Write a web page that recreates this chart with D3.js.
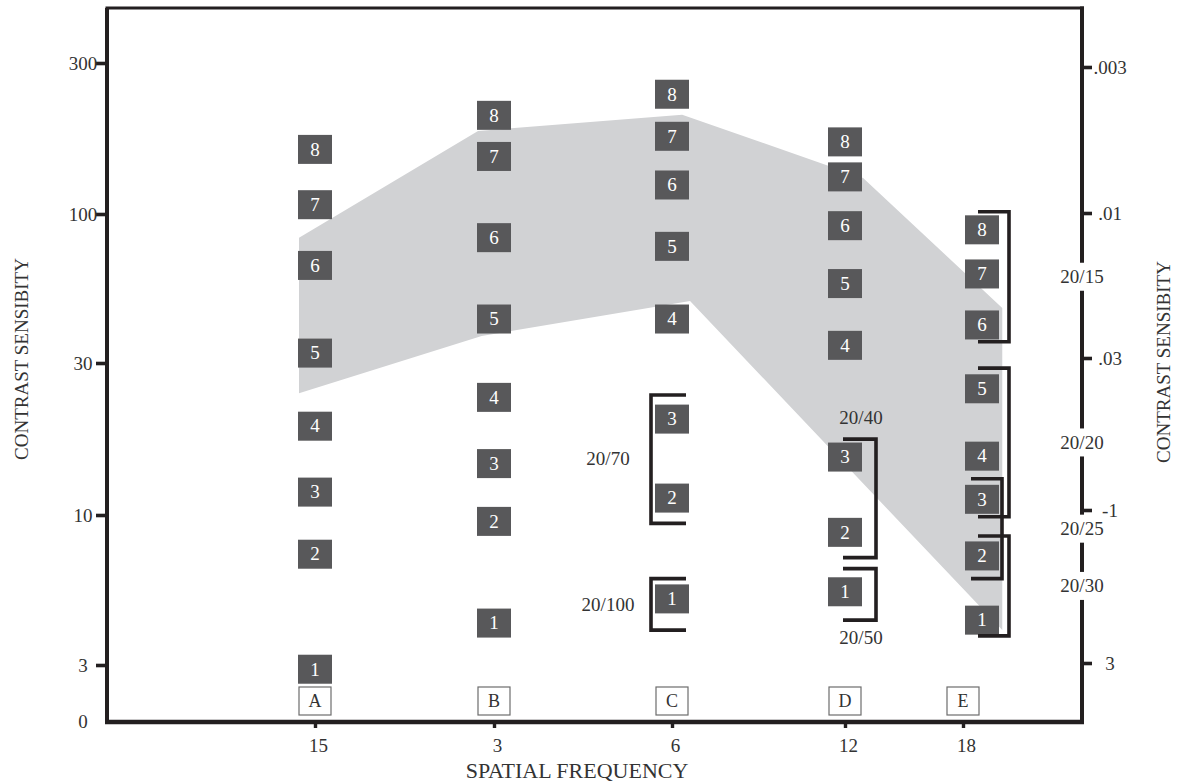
<!DOCTYPE html>
<html>
<head>
<meta charset="utf-8">
<script src="https://cdn.jsdelivr.net/npm/d3@7"></script>
<style>
  html, body { margin: 0; padding: 0; background: #fff; }
  svg { display: block; font-family: "Liberation Serif", "DejaVu Serif", serif; }
</style>
</head>
<body>
<svg id="chart" width="1180" height="784"></svg>
<script>
// ---- data -------------------------------------------------------------
const categories = ["A", "B", "C", "D", "E"];
const frequencies = [1.5, 3, 6, 12, 18];           // cycles per degree
const frequencyLabels = ["15", "3", "6", "12", "18"];
const levels = [1, 2, 3, 4, 5, 6, 7, 8];

// contrast sensitivity of patches 1..8 in each column
const sensA = [2.9, 7.3, 11.8, 19, 32.5, 66, 107, 160];
const sensB = [4.2, 9.5, 14.5, 23.4, 42.8, 82.6, 152, 205];
const sensC = [5.1, 11.3, 20, 42.8, 77, 123.5, 176, 239];
const sensD = [5.4, 8.7, 15.2, 34.6, 57, 91, 131, 169];
const sensE = [4.3, 7.2, 11.2, 15.3, 24.9, 40.8, 61.6, 88];

// normal population band (upper edge left->right, lower edge right->left)
const bandUpperFreq = [1.41, 2.82, 6.25, 12.77, 20.6];
const bandUpperSens = [82.6, 183, 206, 130, 46.8];
const bandLowerFreq = [20.6, 6.45, 2.86, 1.41];
const bandLowerSens = [3.97, 49.5, 37.3, 24.1];

// left axis (contrast sensitivity) and right axis (contrast threshold)
const leftTickValues = [3, 10, 30, 100, 300];
const leftTickLabels = ["3", "10", "30", "100", "300"];
const rightTickValues = [0.003, 0.01, 0.03, 0.1, 0.3];
const rightTickLabels = [".003", ".01", ".03", "-1", "3"];

// Snellen acuity brackets
const bracketColumn = ["C", "C", "D", "D", "E", "E", "E", "E"];
const bracketTop    = [23.8, 6.0, 17.3, 6.5, 101.7, 28.9, 13.0, 8.45];
const bracketBottom = [9.35, 3.97, 7.1, 4.3, 35.6, 9.86, 6.0, 3.79];
const bracketLabels = ["20/70", "20/100", "20/40", "20/50", "20/15", "20/20", "20/25", "20/30"];
const bracketLabelSide = ["left", "left", "above", "below", "axis", "axis", "axis", "axis"];
const bracketDepth = [0, 0, 0, 0, 0, 0, 1, 0];

// ---- layout -----------------------------------------------------------
const ink = "#231f20";
const textCol = "#333";
const frame = { left: 107, right: 1082, top: 8, bottom: 722 };
const columnNudge = { E: 19 };          // patches of column E sit right of its tick
const boxW = 34, boxH = 29;

const svg = d3.select("#chart");

const x = d3.scaleLog().domain(frequencies).range([315, 494, 672, 845, 963]);
const y = d3.scaleLog().domain(leftTickValues).range([665, 515, 363, 214, 63]);
const yRight = d3.scaleLog().domain(rightTickValues).range([67, 213, 358, 510, 663]);

const sensByColumn = [sensA, sensB, sensC, sensD, sensE];
const columns = categories.map((c, i) => ({
  cat: c, freq: frequencies[i], values: sensByColumn[i],
  cx: x(frequencies[i]) + (columnNudge[c] || 0)
}));
const colByCat = Object.fromEntries(columns.map(c => [c.cat, c]));

// ---- shaded band ------------------------------------------------------
const bandPts = bandUpperFreq.map((f, i) => [x(f), y(bandUpperSens[i])])
  .concat(bandLowerFreq.map((f, i) => [x(f), y(bandLowerSens[i])]));
svg.append("path")
  .attr("d", d3.line()(bandPts) + "Z")
  .attr("fill", "#d1d2d4");

// ---- numbered patches -------------------------------------------------
const patches = svg.append("g");
columns.forEach(col => {
  const g = patches.append("g");
  const cells = g.selectAll("g").data(levels).join("g")
    .attr("transform", (d, i) => `translate(${col.cx},${y(col.values[i])})`);
  cells.append("rect")
    .attr("x", -boxW / 2).attr("y", -boxH / 2)
    .attr("width", boxW).attr("height", boxH)
    .attr("fill", "#58585a");
  cells.append("text")
    .attr("text-anchor", "middle").attr("dy", "0.33em")
    .attr("fill", "#fff").attr("font-size", 19)
    .text(d => d);
});

// ---- column letters ---------------------------------------------------
const letters = svg.append("g").selectAll("g").data(columns).join("g")
  .attr("transform", d => `translate(${x(d.freq)},${frame.bottom - 21})`);
letters.append("rect")
  .attr("x", -16).attr("y", -14).attr("width", 32).attr("height", 28)
  .attr("fill", "#fff").attr("stroke", "#6d6d6d").attr("stroke-width", 1.2);
letters.append("text")
  .attr("text-anchor", "middle").attr("dy", "0.34em")
  .attr("fill", textCol).attr("font-size", 18)
  .text(d => d.cat);

// ---- acuity brackets --------------------------------------------------
const brackets = bracketLabels.map((label, i) => {
  const col = colByCat[bracketColumn[i]];
  const y0 = y(bracketTop[i]), y1 = y(bracketBottom[i]);
  return { label, col, y0, y1, mid: (y0 + y1) / 2, side: bracketLabelSide[i], depth: bracketDepth[i] };
});
const bg = svg.append("g");
brackets.forEach(b => {
  const cx = b.col.cx;
  let d;
  if (b.side === "left") {
    const xv = cx - 21, xr = cx + 14;
    d = `M${xr},${b.y0}H${xv}V${b.y1}H${xr}`;
  } else if (b.side === "axis") {
    const inset = b.depth * 7;
    const xl = cx - 4 - inset, xv = cx + 27 - inset;
    d = `M${xl},${b.y0}H${xv}V${b.y1}H${xl}`;
  } else {
    const xl = cx - 2, xv = cx + 31;
    d = `M${xl},${b.y0}H${xv}V${b.y1}H${xl}`;
  }
  bg.append("path").attr("d", d)
    .attr("fill", "none").attr("stroke", ink).attr("stroke-width", 3.6);

  let lx, ly;
  if (b.side === "left") { lx = cx - 64; ly = b.mid; }
  else if (b.side === "above") { lx = cx + 16; ly = b.y0 - 21.5; }
  else if (b.side === "below") { lx = cx + 16; ly = b.y1 + 17.5; }
  else { lx = frame.right; ly = b.mid; }
  bg.append("text")
    .attr("x", lx).attr("y", ly).attr("dy", "0.33em")
    .attr("text-anchor", "middle")
    .attr("fill", textCol).attr("font-size", 19)
    .text(b.label);
});

// ---- frame ------------------------------------------------------------
const fg = svg.append("g").attr("stroke", ink).attr("fill", "none");
fg.append("line")
  .attr("x1", frame.left - 1.5).attr("x2", frame.right + 2)
  .attr("y1", frame.top).attr("y2", frame.top).attr("stroke-width", 3.2);
fg.append("line")
  .attr("x1", frame.left).attr("x2", frame.left)
  .attr("y1", frame.top).attr("y2", frame.bottom).attr("stroke-width", 4);
fg.append("line")
  .attr("x1", frame.left - 2).attr("x2", frame.right + 2)
  .attr("y1", frame.bottom).attr("y2", frame.bottom).attr("stroke-width", 4.4);

// right axis line is broken where the acuity labels sit on it
const gaps = brackets.filter(b => b.side === "axis")
  .map(b => [b.mid - 14, b.mid + 14]).sort((a, b) => a[0] - b[0]);
let start = frame.top - 1.5;
const segs = [];
gaps.forEach(g => { segs.push([start, g[0]]); start = g[1]; });
segs.push([start, frame.bottom + 2]);
fg.selectAll("line.rseg").data(segs).join("line").attr("class", "rseg")
  .attr("x1", frame.right).attr("x2", frame.right)
  .attr("y1", d => d[0]).attr("y2", d => d[1])
  .attr("stroke-width", 4);

// ---- axes -------------------------------------------------------------
function styleAxis(g, width) {
  g.select(".domain").remove();
  g.selectAll(".tick line").attr("stroke", ink).attr("stroke-width", width);
  g.selectAll(".tick text").attr("fill", textCol)
    .attr("font-family", "Liberation Serif, DejaVu Serif, serif").attr("font-size", 19);
}

const leftAxis = svg.append("g")
  .attr("transform", `translate(${frame.left},0)`)
  .call(d3.axisLeft(y).tickValues(leftTickValues)
    .tickFormat((d, i) => leftTickLabels[i]).tickSize(11));
styleAxis(leftAxis, 3.6);
leftAxis.selectAll(".tick text")
  .attr("x", -24).attr("dy", "0.33em").attr("text-anchor", "middle");

svg.append("text")
  .attr("x", frame.left - 24).attr("y", frame.bottom).attr("dy", "0.33em")
  .attr("text-anchor", "middle").attr("fill", textCol).attr("font-size", 19)
  .text("0");

const rightAxis = svg.append("g")
  .attr("transform", `translate(${frame.right},0)`)
  .call(d3.axisRight(yRight).tickValues(rightTickValues)
    .tickFormat((d, i) => rightTickLabels[i]).tickSize(10));
styleAxis(rightAxis, 3.6);
rightAxis.selectAll(".tick text")
  .attr("x", 28).attr("dy", "0.33em").attr("text-anchor", "middle");

const bottomAxis = svg.append("g")
  .attr("transform", `translate(0,${frame.bottom})`)
  .call(d3.axisBottom(x).tickValues(frequencies)
    .tickFormat((d, i) => frequencyLabels[i]).tickSize(6).tickPadding(11));
styleAxis(bottomAxis, 3.4);
bottomAxis.selectAll(".tick text").attr("dx", 3);

// ---- axis titles ------------------------------------------------------
svg.append("text")
  .attr("transform", "translate(28,359) rotate(-90)")
  .attr("text-anchor", "middle").attr("fill", textCol).attr("font-size", 19)
  .text("CONTRAST SENSIBITY");
svg.append("text")
  .attr("transform", "translate(1170,362) rotate(-90)")
  .attr("text-anchor", "middle").attr("fill", textCol).attr("font-size", 19)
  .text("CONTRAST SENSIBITY");
svg.append("text")
  .attr("x", 577).attr("y", 778)
  .attr("text-anchor", "middle").attr("fill", textCol).attr("font-size", 22)
  .text("SPATIAL FREQUENCY");
</script>
</body>
</html>
